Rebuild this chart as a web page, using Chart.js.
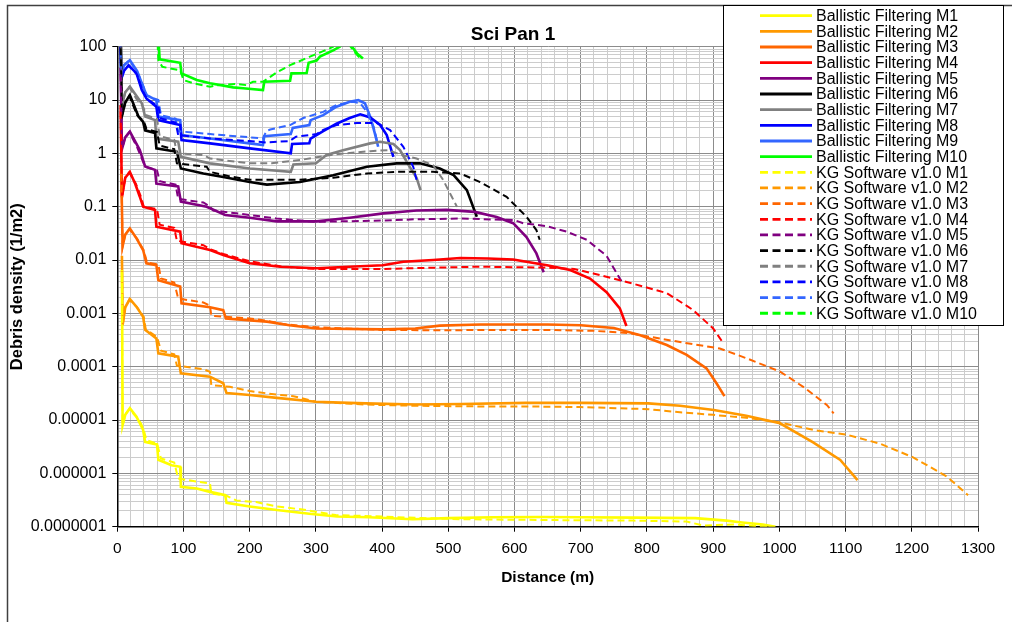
<!DOCTYPE html>
<html>
<head>
<meta charset="utf-8">
<title>Sci Pan 1</title>
<script src="https://cdn.jsdelivr.net/npm/chart.js@4.4.1/dist/chart.umd.min.js"></script>
<style>
  html, body { margin: 0; padding: 0; background: #fff; }
</style>
</head>
<body>
<canvas id="chart" width="1012" height="622"></canvas>
<script>
const chartTitle = 'Sci Pan 1';
const xTitle = 'Distance (m)';
const yTitle = 'Debris density (1/m2)';

const xTickLabels = [0, 100, 200, 300, 400, 500, 600, 700, 800, 900, 1000, 1100, 1200, 1300];
const yTickLabels = ['0.0000001', '0.000001', '0.00001', '0.0001', '0.001', '0.01', '0.1', '1', '10', '100'];

const modelNames = ['M1', 'M2', 'M3', 'M4', 'M5', 'M6', 'M7', 'M8', 'M9', 'M10'];
const modelColors = ['#FFFF00', '#FF9900', '#FF6600', '#FF0000', '#800080', '#000000', '#808080', '#0000FF', '#3366FF', '#00FF00'];

// [distance (m), debris density (1/m2)]
const bfM1 = [[7,6.5e-3],[8,8e-6],[12,1.25e-5],[19,1.66e-5],[29,1.15e-5],[34,8.7e-6],[39,6.5e-6],[42,3.9e-6],[54,3.6e-6],[60,3.5e-6],[62,1.8e-6],[82,1.42e-6],[95,1.33e-6],[96,5.6e-7],[120,5.2e-7],[140,4.5e-7],[163,3.9e-7],[165,2.8e-7],[200,2.4e-7],[241,2.05e-7],[290,1.75e-7],[332,1.55e-7],[380,1.5e-7],[446,1.38e-7],[500,1.45e-7],[567,1.5e-7],[640,1.52e-7],[700,1.5e-7],[780,1.48e-7],[873,1.45e-7],[920,1.3e-7],[944,1.2e-7],[975,1.1e-7],[994,1.0e-7]];
const bfM2 = [[7,1.2e-2],[8,6e-4],[12,1.3e-3],[19,1.85e-3],[29,1.33e-3],[39,8.6e-4],[42,4.9e-4],[59,3.4e-4],[62,1.78e-4],[92,1.54e-4],[96,7.5e-5],[140,6.5e-5],[160,4.9e-5],[165,3.2e-5],[200,2.95e-5],[241,2.6e-5],[300,2.2e-5],[375,2.05e-5],[450,1.95e-5],[520,2.0e-5],[617,2.1e-5],[700,2.1e-5],[802,2.05e-5],[850,1.85e-5],[901,1.54e-5],[950,1.2e-5],[1001,8.7e-6],[1051,3.8e-6],[1092,1.78e-6],[1118,7.5e-7]];
const bfM3 = [[6,0.5],[8,0.018],[12,0.03],[19,0.039],[29,0.0255],[39,0.0154],[44,0.0087],[59,0.008],[62,0.0042],[95,0.0032],[97,0.00154],[140,0.0013],[160,0.00115],[164,8e-4],[226,7e-4],[260,6e-4],[301,5.2e-4],[402,5e-4],[450,5.2e-4],[487,5.9e-4],[548,6.2e-4],[650,6.2e-4],[700,6.0e-4],[750,5.3e-4],[790,3.9e-4],[830,2.55e-4],[860,1.66e-4],[890,9.3e-5],[905,4.9e-5],[917,2.8e-5]];
const bfM4 = [[5,8],[7,0.15],[12,0.35],[19,0.45],[27,0.27],[34,0.154],[39,0.1],[57,0.087],[59,0.042],[95,0.034],[97,0.0206],[140,0.0154],[160,0.0124],[200,0.0087],[246,0.0075],[301,0.007],[350,0.0075],[401,0.008],[432,0.0093],[477,0.01],[518,0.0109],[560,0.0107],[598,0.0102],[649,0.008],[684,0.0065],[714,0.0045],[739,0.0025],[759,0.00124],[769,5.8e-4]];
const bfM5 = [[5,40],[7,1.2],[12,2.0],[19,2.55],[34,1.15],[42,0.57],[57,0.49],[59,0.27],[92,0.24],[96,0.125],[135,0.1],[163,0.07],[200,0.062],[241,0.053],[301,0.053],[351,0.062],[402,0.075],[452,0.085],[497,0.087],[540,0.08],[573,0.064],[598,0.049],[618,0.027],[633,0.0133],[644,0.0059]];
const bfM6 = [[5,200],[7,5],[12,9],[19,12.4],[32,4.9],[39,3.9],[42,2.7],[57,2.4],[59,1.24],[90,1.07],[96,0.52],[130,0.42],[160,0.36],[200,0.29],[226,0.26],[276,0.29],[326,0.39],[377,0.56],[422,0.65],[457,0.65],[487,0.52],[508,0.39],[528,0.205],[543,0.065]];
const bfM7 = [[5,300],[7,8],[12,14],[19,17.8],[37,8.7],[42,4.9],[57,4.2],[59,1.9],[92,1.65],[96,0.86],[140,0.65],[200,0.52],[262,0.45],[266,0.62],[300,0.65],[316,0.93],[341,1.15],[382,1.54],[397,1.65],[417,1.5],[427,1.15],[440,0.6],[452,0.35],[458,0.205]];
const bfM8 = [[4,300],[6,25],[10,35],[17,45],[29,31.6],[37,15.4],[44,10.7],[59,7.5],[62,4.2],[95,3.4],[97,1.78],[140,1.54],[200,1.24],[262,1.0],[264,1.5],[290,1.55],[292,1.9],[311,2.6],[331,3.6],[351,4.6],[367,5.4],[382,4.7],[397,3.4],[407,2.2],[417,0.86]];
const bfM9 = [[4,400],[6,30],[10,45],[19,56],[30,35],[37,20.6],[44,12.4],[59,10],[62,4.9],[95,4.2],[97,2.2],[140,1.9],[200,1.54],[220,1.43],[222,2.1],[262,2.3],[265,3.0],[290,3.4],[292,4.2],[311,5.2],[331,7.5],[351,9.3],[364,10],[374,8.7],[382,4.9],[389,2.37],[394,1.33]];
const bfM10 = [[5,800],[19,900],[40,500],[62,150],[64,58],[95,50],[97,31.6],[120,23.7],[140,20.6],[175,17.3],[190,16.6],[220,15.4],[222,22],[261,23],[263,31.6],[286,32],[289,50],[301,55],[306,65],[326,85],[336,100],[345,130],[352,110],[362,75],[371,60]];

const kgM1 = [[7,6e-3],[8,8e-6],[12,1.25e-5],[18,1.6e-5],[30,1.1e-5],[36,8.5e-6],[40,6.5e-6],[44,4.2e-6],[60,3.6e-6],[66,1.9e-6],[86,1.6e-6],[92,8e-7],[120,7e-7],[140,6.5e-7],[142,4.2e-7],[165,3.8e-7],[180,3.1e-7],[210,2.9e-7],[240,2.4e-7],[280,2.1e-7],[330,1.65e-7],[400,1.55e-7],[460,1.45e-7],[520,1.38e-7],[600,1.35e-7],[700,1.32e-7],[780,1.3e-7],[860,1.25e-7],[885,1.05e-7],[930,1.1e-7],[985,1.0e-7]];
const kgM2 = [[7,1e-2],[8,6e-4],[12,1.3e-3],[18,1.8e-3],[30,1.3e-3],[40,8.5e-4],[43,5e-4],[60,3.6e-4],[66,2e-4],[86,1.7e-4],[90,1.05e-4],[130,9e-5],[140,8e-5],[142,4.5e-5],[170,4.2e-5],[200,3.5e-5],[240,3e-5],[266,2.8e-5],[300,2.2e-5],[375,1.95e-5],[450,1.85e-5],[550,1.8e-5],[617,1.8e-5],[700,1.75e-5],[802,1.6e-5],[850,1.4e-5],[900,1.25e-5],[950,1.1e-5],[1001,9e-6],[1052,6.5e-6],[1102,5.3e-6],[1152,3.6e-6],[1202,2e-6],[1253,8.7e-7],[1285,3.9e-7]];
const kgM3 = [[6,0.4],[8,0.018],[12,0.03],[18,0.038],[30,0.025],[40,0.015],[45,0.009],[62,0.0082],[66,0.0045],[86,0.0038],[92,0.0019],[130,0.0016],[140,0.0014],[142,9e-4],[200,8e-4],[225,7.3e-4],[250,6.3e-4],[300,5.5e-4],[400,4.9e-4],[500,4.8e-4],[548,4.9e-4],[650,4.9e-4],[720,4.7e-4],[770,4.3e-4],[850,2.9e-4],[910,2.2e-4],[951,1.43e-4],[1001,8.1e-5],[1036,4.2e-5],[1072,1.9e-5],[1082,1.33e-5]];
const kgM4 = [[5,6],[7,0.15],[12,0.35],[18,0.44],[28,0.27],[36,0.15],[40,0.1],[60,0.09],[64,0.046],[86,0.04],[90,0.023],[130,0.019],[140,0.016],[160,0.013],[200,0.0095],[250,0.0075],[300,0.0068],[400,0.0068],[480,0.0072],[548,0.0075],[650,0.0072],[690,0.0068],[719,0.0056],[779,0.0036],[830,0.0024],[870,0.00115],[900,5.2e-4],[915,2.8e-4]];
const kgM5 = [[5,30],[7,1.2],[12,2.0],[18,2.5],[30,1.3],[40,0.65],[44,0.55],[60,0.48],[64,0.3],[88,0.26],[92,0.14],[130,0.12],[140,0.1],[145,0.085],[200,0.07],[240,0.06],[300,0.052],[400,0.055],[450,0.058],[520,0.06],[600,0.056],[613,0.049],[649,0.043],[679,0.034],[709,0.024],[739,0.012],[759,0.0045],[764,0.0036]];
const kgM6 = [[5,150],[7,5],[12,9],[18,12],[30,5.2],[40,4],[44,2.9],[60,2.5],[64,1.4],[86,1.2],[90,0.65],[135,0.56],[140,0.45],[170,0.37],[200,0.32],[276,0.32],[326,0.35],[377,0.42],[422,0.45],[477,0.45],[518,0.42],[548,0.29],[588,0.153],[618,0.065],[633,0.0365],[638,0.024]];
const kgM7 = [[5,250],[7,8],[12,14],[18,17.5],[30,10],[38,8],[44,5.2],[60,4.4],[64,2.1],[86,1.8],[90,1.0],[130,0.93],[140,0.8],[200,0.65],[233,0.65],[276,0.75],[326,0.95],[382,1.1],[410,1.15],[427,0.95],[452,0.8],[477,0.6],[492,0.32],[505,0.155],[513,0.1]];
const kgM8 = [[4,250],[6,25],[10,35],[17,44],[30,30],[38,15],[45,10.5],[62,7.5],[66,4.5],[88,3.8],[92,2.2],[140,1.9],[200,1.7],[225,1.6],[260,1.7],[270,2.05],[301,2.3],[311,2.74],[331,3.4],[362,3.7],[392,3.7],[412,2.74],[432,1.33],[447,0.56],[452,0.32]];
const kgM9 = [[4,350],[6,30],[10,45],[18,55],[30,34],[38,20],[45,12],[62,10],[66,5.2],[88,4.5],[92,2.6],[140,2.3],[200,2.0],[220,1.9],[225,2.6],[231,2.8],[261,3.4],[281,4.6],[311,6.0],[331,8.1],[356,9.3],[367,8.7],[377,6.0],[387,3.2],[392,1.78]];
const kgM10 = [[5,700],[19,850],[40,450],[60,200],[62,56],[68,42],[95,36],[100,23.7],[115,20.6],[140,17.8],[150,19],[180,20],[195,19],[205,22],[220,22],[241,33],[261,45],[291,65],[321,93],[326,100],[335,130],[350,110],[358,80],[366,62]];

const bfSeries = [bfM1, bfM2, bfM3, bfM4, bfM5, bfM6, bfM7, bfM8, bfM9, bfM10];
const kgSeries = [kgM1, kgM2, kgM3, kgM4, kgM5, kgM6, kgM7, kgM8, kgM9, kgM10];

const FONT = '"Liberation Sans", Arial, Helvetica, sans-serif';
Chart.defaults.font.family = FONT;
Chart.defaults.color = '#000';

const toPoints = arr => arr.map(([x, y]) => ({ x, y }));
const isDecade = v => Math.abs(Math.log10(v) - Math.round(Math.log10(v))) < 1e-6;

const datasets = [];
bfSeries.forEach((s, i) => datasets.push({
  label: 'Ballistic Filtering ' + modelNames[i],
  data: toPoints(s),
  borderColor: modelColors[i],
  borderWidth: 2.6,
  order: 1
}));
kgSeries.forEach((s, i) => datasets.push({
  label: 'KG Software v1.0 ' + modelNames[i],
  data: toPoints(s),
  borderColor: modelColors[i],
  borderWidth: 2,
  borderDash: [7, 4],
  order: 0
}));

// frame, title and legend box
const decor = {
  id: 'decor',
  beforeDraw(chart) {
    const c = chart.ctx;
    c.save();
    c.fillStyle = '#fff';
    c.fillRect(0, 0, chart.width, chart.height);
    c.restore();
  },
  afterDraw(chart) {
    const c = chart.ctx;
    c.save();
    c.strokeStyle = '#404040';
    c.lineWidth = 1.5;
    c.beginPath();
    c.moveTo(7.5, 640);
    c.lineTo(7.5, 5.5);
    c.lineTo(1020, 5.5);
    c.stroke();

    c.fillStyle = '#000';
    c.font = 'bold 19px ' + FONT;
    c.textAlign = 'center';
    c.textBaseline = 'middle';
    c.fillText(chartTitle, 513, 35);

    const lx = 723, ly = 5, lw = 280, lh = 320;
    c.fillStyle = '#fff';
    c.fillRect(lx, ly, lw, lh);
    c.strokeStyle = '#000';
    c.lineWidth = 1;
    c.strokeRect(lx + 0.5, ly + 0.5, lw, lh);
    c.font = '16px ' + FONT;
    c.textAlign = 'left';
    chart.data.datasets.forEach((ds, i) => {
      const y = 15.7 + i * 15.66;
      c.strokeStyle = ds.borderColor;
      c.lineWidth = 2.8;
      c.setLineDash(ds.borderDash ? [8, 4.5] : []);
      c.beginPath();
      c.moveTo(760, y);
      c.lineTo(812, y);
      c.stroke();
      c.setLineDash([]);
      c.fillStyle = '#000';
      c.fillText(ds.label, 816, y + 1);
    });
    c.restore();
  }
};

new Chart(document.getElementById('chart'), {
  type: 'line',
  data: { datasets },
  options: {
    responsive: false,
    animation: false,
    layout: { padding: { left: 8, right: 34, top: 46.7, bottom: 35 } },
    elements: { point: { radius: 0 }, line: { tension: 0 } },
    plugins: { legend: { display: false }, title: { display: false }, tooltip: { enabled: false } },
    scales: {
      x: {
        type: 'linear',
        min: 0,
        max: 1300,
        afterBuildTicks: scale => {
          const t = [];
          for (let v = 0; v <= 1300; v += 20) t.push({ value: v });
          scale.ticks = t;
        },
        afterFit: scale => { scale.height = 60.3; },
        ticks: {
          autoSkip: false,
          maxRotation: 0,
          padding: 8,
          font: { size: 15.5 },
          callback: v => xTickLabels.includes(v) ? String(v) : ''
        },
        grid: {
          color: ctx => ctx.tick && ctx.tick.value % 100 === 0 ? '#8c8c8c' : '#cccccc',
          tickColor: ctx => ctx.tick && ctx.tick.value % 100 === 0 ? '#000' : 'rgba(0,0,0,0)',
          tickLength: 5,
          lineWidth: 1
        },
        border: { color: '#000', width: 1.5 },
        title: { display: true, text: xTitle, font: { size: 15.5, weight: 'bold' }, padding: { top: 0, bottom: 0 } }
      },
      y: {
        type: 'logarithmic',
        min: 1e-7,
        max: 100,
        afterBuildTicks: scale => {
          const t = [];
          for (let e = -7; e <= 2; e++) {
            for (let m = 1; m <= 9; m++) {
              if (e === 2 && m > 1) break;
              t.push({ value: parseFloat((m * Math.pow(10, e)).toPrecision(3)) });
            }
          }
          scale.ticks = t;
        },
        afterFit: scale => { scale.width = 109.3; },
        ticks: {
          autoSkip: false,
          padding: 6,
          font: { size: 16 },
          callback: v => isDecade(v) ? yTickLabels[Math.round(Math.log10(v)) + 7] : ''
        },
        grid: {
          color: ctx => ctx.tick && isDecade(ctx.tick.value) ? '#8c8c8c' : '#cccccc',
          tickColor: ctx => ctx.tick && isDecade(ctx.tick.value) ? '#000' : 'rgba(0,0,0,0)',
          tickLength: 5,
          lineWidth: 1
        },
        border: { color: '#000', width: 1.5 },
        title: { display: true, text: yTitle, font: { size: 16.5, weight: 'bold' }, padding: { top: 0, bottom: 0 } }
      }
    }
  },
  plugins: [decor]
});
</script>
</body>
</html>
